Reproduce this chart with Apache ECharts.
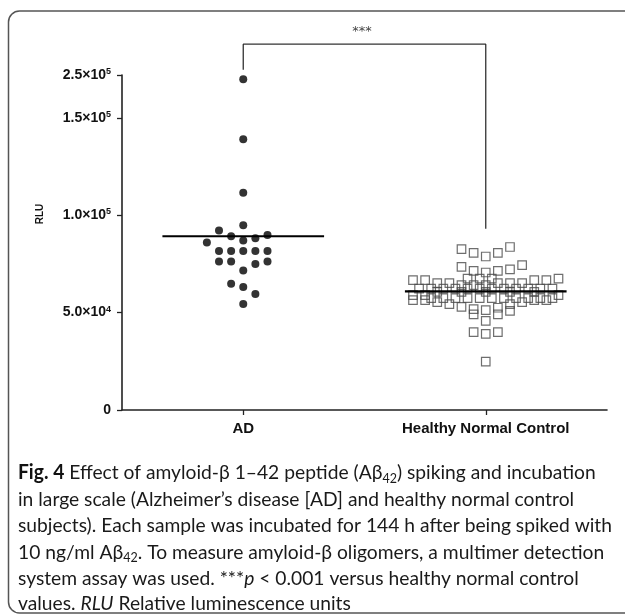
<!DOCTYPE html>
<html><head><meta charset="utf-8">
<script src="https://cdn.jsdelivr.net/npm/echarts@6/dist/echarts.min.js"></script>
<style>html,body{margin:0;padding:0;background:#fff;}#c{width:625px;height:615px;}</style>
</head><body><div id="c"></div>
<script>
// ---------- data ----------
const categories = ['AD', 'Healthy Normal Control'];

// AD group: RLU value and horizontal swarm slot
const adValues = [240000, 139000, 111600, 94900, 92100, 89200, 88200, 89900, 87000, 86000,
                  81700, 81700, 81700, 81700, 81700, 76300, 76300, 76300, 75000, 71600,
                  64800, 63100, 59600, 54400];
const adSlots  = [0, 0, 0, 0, -2, -1, 1, 2, 0, -3,
                  -2, -1, 0, 1, 2, -2, -1, 2, 1, 0,
                  -1, 0, 1, 0];

// Healthy normal control group: rows of squares (value, slots in that row)
const hncRowValues = [83700, 82600, 80700, 78800, 74400, 73500, 72200, 71400, 70600, 67500,
                      66700, 65100, 64100, 62300, 60700, 59000, 57400, 56400, 55400, 54400,
                      52900, 52500, 51800, 51300, 50900, 49100, 45800, 40000, 39100, 24800];
const hncRowSlots = [[2], [-2], [-1, 1], [0], [3], [-2], [2], [-1, 1], [0], [-1.5, -0.5, 0.5, 6],
                     [-6, -5, 4, 5], [-4, -3, 1, 2, 3], [-2, -1, 0],
                     [-5.5, -4.5, -3.5, -2.5, -1.5, -0.5, 0.5, 1.5, 2.5, 3.5, 4.5, 5.5],
                     [-4, -2, 0, 2, 4], [-6, -5, 6],
                     [-4.5, -3.5, -2.5, -1.5, -0.5, 0.5, 1.5, 2.5, 3.5, 4.5, 5.5],
                     [-6, -5, 4, 5], [-4, 3], [-3, 2], [-2], [1], [-1], [0], [2], [-1, 1], [0],
                     [-1, 1], [0], [0]];

const groupMeans = [89200, 60900];

const yTickValues = [0, 50000, 100000, 150000, 250000];
const yTickMantissa = ['0', '5.0×10', '1.0×10', '1.5×10', '2.5×10'];
const yTickExponent = ['', '4', '5', '5', '5'];
const yAxisName = 'RLU';

const sigLabel = '***';
const bracketLeftFoot = 262000, bracketRightFoot = 93000, bracketTop = 322000;

const captionLines = [
  '{b|Fig. 4} Effect of amyloid-β 1–42 peptide (Aβ{sub|42}) spiking and incubation',
  'in large scale (Alzheimer’s disease [AD] and healthy normal control',
  'subjects). Each sample was incubated for 144 h after being spiked with',
  '10 ng/ml Aβ{sub|42}. To measure amyloid-β oligomers, a multimer detection',
  'system assay was used. ***{i|p} < 0.001 versus healthy normal control',
  'values. {i|RLU} Relative luminescence units'
];

// ---------- scale helpers ----------
const BREAK = 150000, COMPRESS = 0.22;   // axis is compressed above 1.5×10^5
const T = v => v <= BREAK ? v : BREAK + (v - BREAK) * COMPRESS;
const SLOT = 0.05;    // swarm step in category units
const MEAN_HALF = 1 / 3;

const adData = adValues.map((v, i) => [0 + adSlots[i] * SLOT, T(v)]);
const hncData = [];
hncRowValues.forEach((v, r) => hncRowSlots[r].forEach(s => hncData.push([1 + s * SLOT, T(v)])));
const tickT = yTickValues.map(T);

const chart = echarts.init(document.getElementById('c'), null, {renderer: 'canvas'});

// caption horizontal fit (font is condensed in the original)
const CAP_FONT = 'Lato';
const CAP_SIZE = 20;
const mctx = document.createElement('canvas').getContext('2d');
mctx.font = CAP_SIZE + 'px ' + CAP_FONT;
const capScale = 594 / mctx.measureText(captionLines[2]).width;
const capY = [473, 499.5, 526, 552.5, 578.5, 604];

const AXIS_FONT = 'Liberation Sans';

const graphics = [
  {type: 'rect', shape: {x: 8.5, y: 11, width: 650, height: 602, r: 11},
   style: {fill: 'none', stroke: '#555', lineWidth: 1.5}, silent: true},
  {type: 'text', x: 40.5, y: 214, rotation: Math.PI / 2,
   style: {text: yAxisName, fontFamily: AXIS_FONT, fontWeight: 'bold', fontSize: 10,
           fill: '#111', align: 'center', verticalAlign: 'middle'}},
  {type: 'text', x: 362, y: 32,
   style: {text: sigLabel, fontFamily: 'DejaVu Sans', fontSize: 13, fill: '#444',
           align: 'center', verticalAlign: 'middle'}}
];
captionLines.forEach((t, i) => {
  graphics.push({
    type: 'text', x: 18, y: capY[i], scaleX: capScale, scaleY: 1, originX: 0, originY: 0,
    style: {
      text: t, fontFamily: CAP_FONT, fontSize: CAP_SIZE, fill: '#1a1a1a', lineHeight: 24,
      align: 'left', verticalAlign: 'middle',
      rich: {
        b: {fontFamily: CAP_FONT, fontSize: CAP_SIZE, fontWeight: 'bold', fill: '#111', lineHeight: 24},
        sub: {fontFamily: CAP_FONT, fontSize: 13, lineHeight: 13, verticalAlign: 'bottom', fill: '#1a1a1a'},
        i: {fontFamily: CAP_FONT, fontSize: CAP_SIZE, fontStyle: 'italic', fill: '#1a1a1a', lineHeight: 24}
      }
    }
  });
});

const option = {
  animation: false,
  backgroundColor: '#fff',
  grid: {left: 122, right: 18, top: 75, bottom: 205},
  xAxis: {
    type: 'value', min: -0.5, max: 1.5,
    splitLine: {show: false},
    axisLine: {show: true, onZero: false, lineStyle: {color: '#222', width: 1.6}},
    axisTick: {show: true, customValues: [0, 1], length: 5, lineStyle: {color: '#222', width: 1.3}},
    axisLabel: {
      customValues: [0, 1], margin: 11,
      formatter: v => categories[Math.round(v)],
      fontFamily: AXIS_FONT, fontWeight: 'bold', fontSize: 15, color: '#111'
    }
  },
  yAxis: {
    type: 'value', min: 0, max: T(250000),
    splitLine: {show: false},
    axisLine: {show: true, onZero: false, lineStyle: {color: '#222', width: 1.6}},
    axisTick: {show: true, customValues: tickT, length: 5, lineStyle: {color: '#222', width: 1.3}},
    axisLabel: {
      customValues: tickT, margin: 11,
      formatter: v => {
        let idx = 0, best = Infinity;
        tickT.forEach((t, i) => { if (Math.abs(t - v) < best) { best = Math.abs(t - v); idx = i; } });
        return '{n|' + yTickMantissa[idx] + '}' + (yTickExponent[idx] ? '{s|' + yTickExponent[idx] + '}' : '');
      },
      rich: {
        n: {fontFamily: AXIS_FONT, fontWeight: 'bold', fontSize: 14, color: '#111', lineHeight: 16},
        s: {fontFamily: AXIS_FONT, fontWeight: 'bold', fontSize: 9, color: '#111', lineHeight: 11, verticalAlign: 'top'}
      }
    }
  },
  series: [
    {type: 'scatter', name: categories[0], data: adData, symbol: 'circle', symbolSize: 8,
     itemStyle: {color: '#000'}, z: 3},
    {type: 'scatter', name: categories[1], data: hncData, symbol: 'rect', symbolSize: 8.5,
     itemStyle: {color: 'rgba(255,255,255,0)', borderColor: '#4a4a4a', borderWidth: 1.2}, z: 3},
    ...groupMeans.map((m, g) => ({
      type: 'line', data: [[g - MEAN_HALF, T(m)], [g + MEAN_HALF, T(m)]], symbol: 'none',
      lineStyle: {color: '#000', width: 2.2}, z: 4, silent: true
    })),
    {type: 'line', clip: false, symbol: 'none', silent: true, z: 2,
     data: [[0, T(bracketLeftFoot)], [0, T(bracketTop)], [1, T(bracketTop)], [1, T(bracketRightFoot)]],
     lineStyle: {color: '#333', width: 1.3}}
  ],
  graphic: graphics
};
chart.setOption(option);
</script>
</body></html>
